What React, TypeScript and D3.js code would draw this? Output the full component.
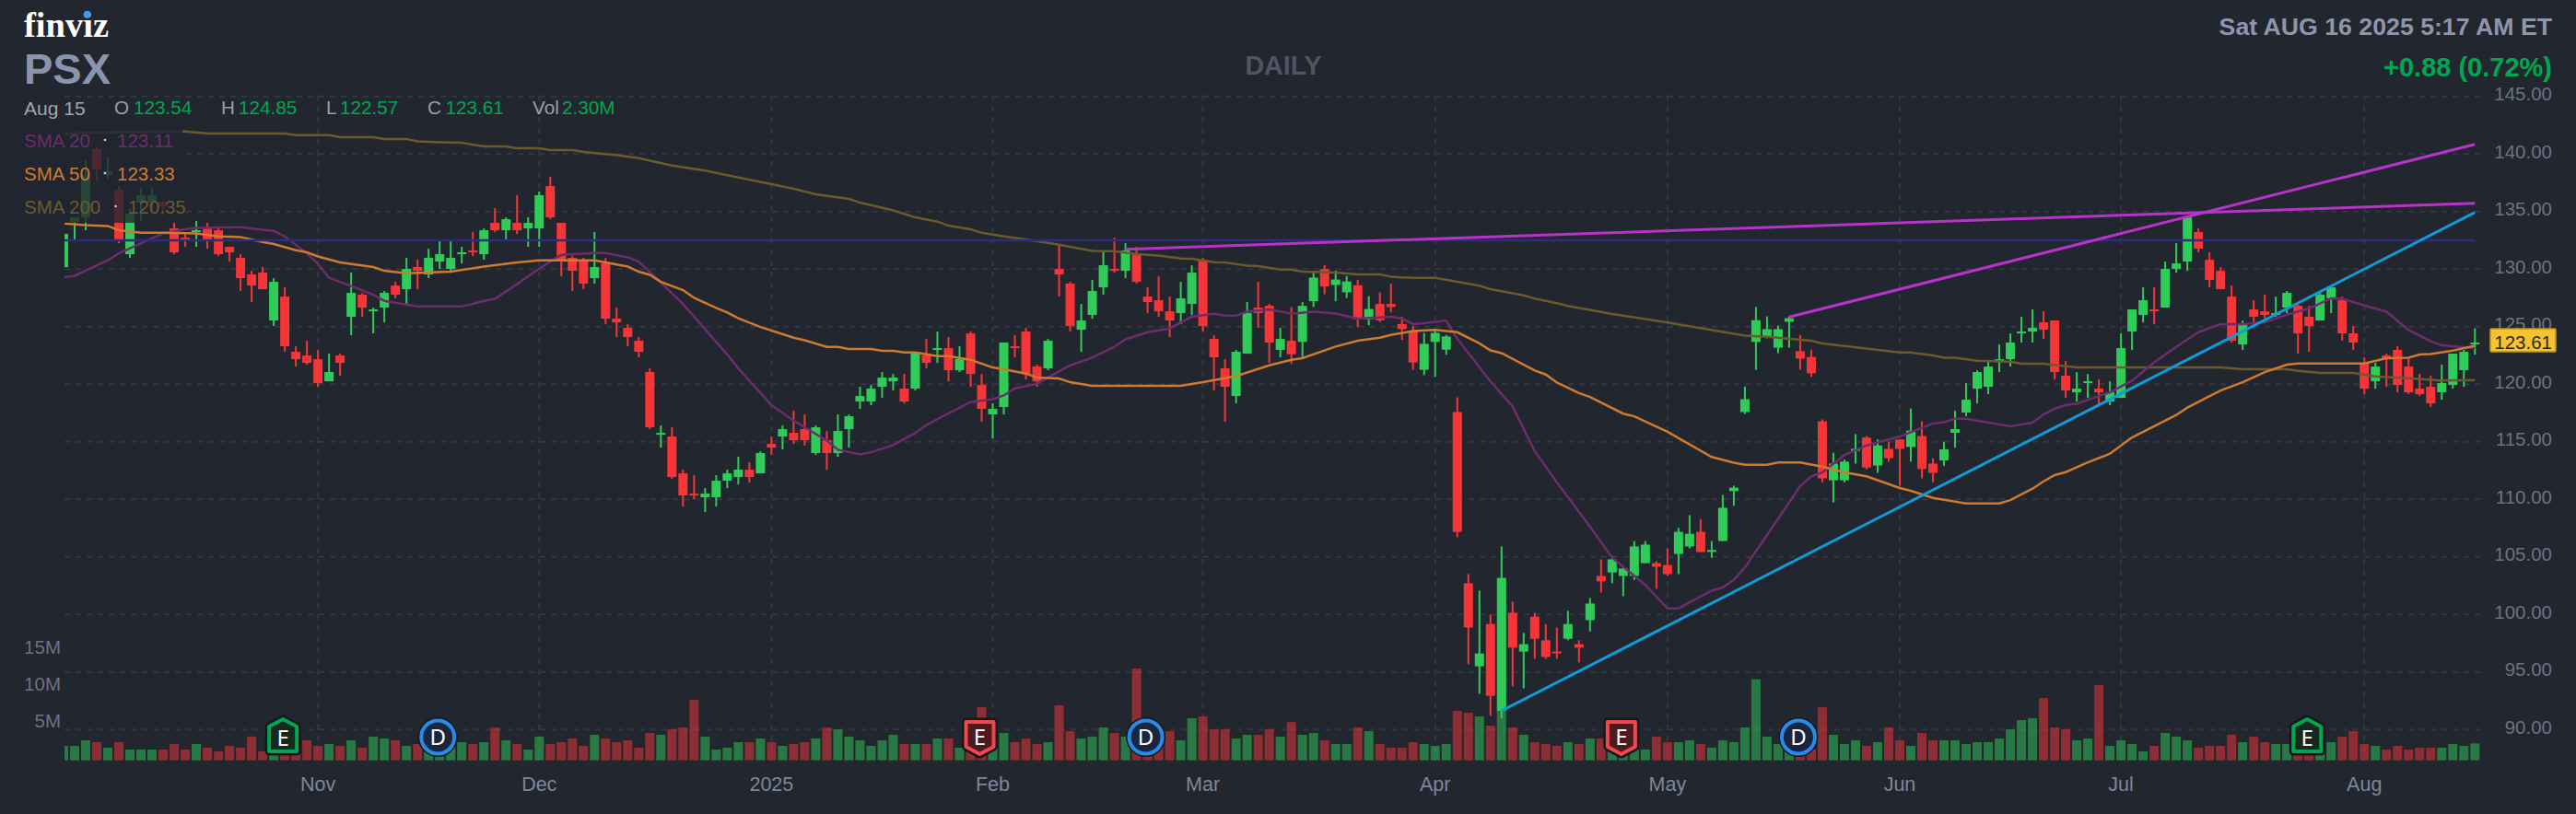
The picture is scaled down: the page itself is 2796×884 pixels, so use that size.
import React from 'react';
import * as d3 from 'd3';

const opens = [
  130.17,134.06,134.49,140.44,138.17,136.89,131.29,135.77,135.77,135.82,
  133.53,132.73,133.21,133.53,133.37,131.93,130.97,129.53,129.69,125.53,
  127.61,122.81,122.49,122.17,120.25,122.49,125.85,127.77,126.33,126.65,
  128.57,128.25,130.17,129.53,130.65,130.01,131.29,131.61,131.29,134.01,
  133.37,134.01,133.53,133.53,137.21,134.01,130.97,130.81,129.21,130.49,
  125.69,124.89,123.77,121.05,115.61,115.45,112.25,110.49,110.17,110.17,
  111.61,111.93,112.57,112.25,114.81,115.45,115.77,116.09,114.01,115.13,
  114.01,116.09,118.49,118.49,119.77,120.25,119.61,119.61,122.49,122.97,
  123.13,121.21,124.41,119.93,117.37,118.01,123.29,124.57,121.53,121.37,
  130.01,128.73,124.73,126.01,128.41,130.01,129.85,131.29,127.61,127.29,
  126.33,126.17,126.97,130.81,123.93,121.37,118.97,122.65,126.65,126.81,
  122.97,123.77,123.67,127.21,130.0,128.62,127.98,128.59,125.63,126.97,
  126.97,125.22,124.62,121.25,123.67,123.0,117.58,102.70,95.49,99.16,
  91.62,100.14,96.77,99.80,97.75,96.77,97.88,97.41,99.50,103.34,
  103.64,103.34,103.34,104.45,104.45,104.28,105.25,105.90,107.17,105.42,
  106.37,110.71,117.58,123.67,124.14,123.17,125.42,122.86,122.36,116.77,
  111.65,111.65,114.21,115.36,112.93,114.38,115.19,114.55,115.49,113.10,
  113.38,115.77,117.53,119.61,119.77,122.01,122.17,124.41,124.57,125.37,
  125.53,120.73,119.29,120.09,119.61,118.49,118.81,124.57,126.01,126.49,
  126.65,130.01,130.65,133.21,130.81,129.85,127.61,123.45,126.49,126.33,
  126.01,126.65,126.81,125.85,125.53,127.45,127.29,124.41,121.85,120.25,
  122.49,122.97,121.53,119.61,119.77,119.29,119.93,121.21,123.54,
];
const highs = [
  133.05,134.49,139.45,140.57,139.77,137.24,135.24,137.05,137.05,135.9,
  134.01,133.21,134.17,134.01,133.53,131.93,131.29,129.85,130.17,129.21,
  128.41,123.29,123.77,122.97,122.65,122.65,129.69,127.93,126.65,128.09,
  128.89,130.97,130.81,131.77,132.57,132.57,131.93,133.21,133.53,135.29,
  134.49,136.41,134.49,136.73,138.01,134.01,131.13,130.97,133.21,130.97,
  126.65,125.21,124.09,121.37,116.41,116.25,112.57,112.09,110.97,112.09,
  112.57,113.69,113.21,114.17,115.45,116.41,117.69,117.37,116.41,115.93,
  117.37,117.37,119.77,119.93,121.05,120.89,120.89,122.81,123.93,124.57,
  124.09,123.29,124.57,120.89,118.33,123.61,124.25,124.89,121.69,123.93,
  132.09,128.89,126.97,129.05,131.61,132.73,132.25,131.93,128.41,129.37,
  127.61,128.89,130.33,130.97,124.25,122.17,122.97,127.13,128.89,126.97,
  124.89,126.7,127.14,129.83,130.34,129.87,129.40,129.06,127.65,127.98,
  128.72,125.86,125.09,124.45,124.78,124.28,118.86,103.50,102.06,99.97,
  105.9,101.11,98.39,100.14,99.16,98.86,100.31,97.75,101.42,104.78,
  105.09,104.14,106.37,106.37,104.62,105.73,107.51,108.62,108.28,106.37,
  110.37,111.18,119.80,126.70,125.89,125.09,125.89,124.28,123.0,116.94,
  114.04,113.44,115.66,115.49,115.19,115.02,115.19,117.88,116.77,113.57,
  115.0,117.69,120.09,121.21,122.01,123.45,124.41,125.85,126.49,126.33,
  125.53,122.01,121.05,120.89,120.41,120.25,124.41,126.49,128.41,128.41,
  130.65,132.25,134.65,133.53,131.45,130.17,128.57,125.53,127.29,127.77,
  127.61,128.09,127.13,126.81,127.93,128.57,127.61,125.05,122.33,121.85,
  122.65,123.29,122.33,120.89,120.73,121.69,122.65,122.97,124.85,
];
const lows = [
  130.17,132.57,133.37,137.64,137.85,132.25,130.97,134.17,134.97,134.71,
  131.29,131.93,131.93,131.77,131.13,130.65,128.09,127.13,128.25,125.05,
  122.81,121.53,121.69,119.77,120.25,120.73,124.25,125.85,124.41,125.37,
  127.45,126.81,128.25,129.21,130.01,129.69,130.49,131.13,130.81,133.21,
  132.57,133.05,131.93,131.93,134.33,129.37,128.09,128.25,128.73,125.21,
  124.09,123.29,122.33,116.09,114.49,111.77,109.37,110.01,108.89,109.37,
  110.97,111.29,111.45,112.25,113.85,114.33,114.81,114.65,113.85,112.57,
  113.69,114.49,117.85,118.17,118.81,119.45,118.33,119.45,121.37,121.85,
  120.25,121.05,119.77,116.73,115.29,117.37,122.33,120.41,119.77,121.21,
  127.61,124.57,122.81,125.69,127.77,129.69,129.21,128.73,126.17,125.85,
  124.09,125.21,126.01,124.57,119.45,116.73,118.33,122.65,124.89,121.85,
  122.33,121.75,122.36,126.70,127.81,127.21,127.48,124.95,125.12,125.42,
  126.23,123.84,121.25,120.78,120.64,122.56,106.70,95.66,93.10,91.18,
  91.01,93.74,93.57,96.13,96.13,96.13,97.75,95.83,98.52,101.89,
  102.70,101.58,103.0,104.45,102.22,103.34,103.50,105.73,105.42,104.92,
  106.37,109.43,117.41,121.25,123.98,122.70,123.17,121.25,120.64,111.48,
  109.73,111.48,113.10,112.59,112.29,113.27,111.18,113.27,111.82,111.48,
  112.9,114.49,117.21,118.33,119.13,121.05,121.53,123.61,123.61,123.93,
  120.41,118.81,118.49,118.81,118.17,118.17,118.81,122.97,125.37,125.21,
  126.65,129.69,129.85,131.45,128.41,128.25,123.61,122.97,125.37,125.69,
  125.85,126.17,122.65,122.81,125.53,126.17,123.77,122.97,119.13,119.61,
  119.77,119.29,119.13,118.97,118.01,118.65,119.61,119.77,122.57,
];
const closes = [
  133.05,134.49,138.17,138.65,138.49,132.44,134.81,136.41,136.41,135.45,
  131.45,132.57,133.37,132.57,131.29,131.45,129.21,128.57,128.25,128.89,
  123.29,122.17,121.85,120.09,121.05,121.85,127.93,126.65,126.49,127.93,
  127.77,130.01,129.85,130.97,131.29,130.97,131.45,131.45,133.37,133.37,
  134.33,133.37,134.01,136.41,134.49,130.81,129.85,128.73,130.17,125.69,
  125.37,124.09,122.81,116.25,115.77,111.93,110.33,110.33,110.49,111.61,
  112.25,112.57,111.93,114.01,114.49,116.09,115.13,115.13,116.25,114.01,
  115.93,117.21,118.97,119.61,120.57,120.57,118.49,122.81,121.85,123.13,
  121.21,122.17,120.89,117.85,117.85,123.61,123.13,120.89,120.25,123.77,
  129.53,125.05,125.53,128.09,130.33,129.85,131.61,128.89,127.13,126.33,
  125.53,127.45,129.69,125.05,122.33,119.77,122.81,126.17,126.17,123.61,
  123.93,122.6,126.8,129.26,128.49,129.09,128.92,125.63,126.53,125.56,
  126.70,124.78,121.89,123.50,124.45,124.14,107.17,98.86,96.60,92.93,
  103.17,97.11,97.41,97.88,96.30,96.64,99.16,97.11,100.94,102.87,
  104.78,103.98,105.90,106.06,104.14,103.50,107.17,107.0,105.42,105.59,
  109.26,111.01,118.69,125.56,124.78,124.78,125.73,122.22,120.95,111.82,
  113.10,113.27,114.38,112.76,114.68,113.57,114.38,115.96,112.63,112.29,
  114.34,116.09,118.65,121.05,121.53,122.17,123.61,124.57,124.89,124.73,
  121.05,119.45,119.61,120.25,119.29,119.29,123.13,126.49,127.29,126.33,
  130.01,130.49,134.49,131.77,129.05,128.25,123.77,125.21,125.85,126.01,
  126.17,127.93,124.41,125.05,127.77,128.41,124.41,123.61,119.61,121.53,
  122.17,119.93,119.29,119.13,118.33,120.09,122.65,122.81,123.61,
];
// millions of shares
const volumes = [
  1.96,1.96,2.71,2.46,1.71,2.46,1.46,1.46,1.46,1.46,
  2.21,1.46,2.21,1.71,1.21,1.96,1.71,3.21,1.21,1.71,
  1.96,1.96,2.71,1.96,2.21,1.96,2.71,1.71,3.21,2.96,
  2.71,1.96,2.21,2.3,2.4,2.4,2.46,2.21,2.46,4.46,
  2.71,2.21,1.46,3.21,2.21,2.46,2.96,1.96,3.46,2.96,
  2.46,2.71,1.71,3.71,3.46,4.21,4.46,8.21,3.21,1.46,
  1.71,2.46,2.46,2.96,2.46,1.96,2.21,2.46,2.96,4.46,
  4.21,3.21,2.71,1.96,2.71,3.46,2.21,2.21,2.21,2.96,
  2.96,1.71,2.3,7.21,2.3,3.71,2.46,2.96,2.21,2.46,
  7.46,3.96,2.96,3.21,4.46,3.71,3.21,12.46,2.3,2.3,
  3.96,2.71,5.71,5.96,4.21,4.21,2.96,3.46,3.46,4.21,
  3.21,5.21,3.46,3.71,2.71,2.21,2.21,4.46,3.96,2.21,
  1.71,1.71,2.46,2.21,1.96,2.21,6.71,6.46,5.96,4.71,
  6.71,4.46,3.46,2.46,2.21,1.96,2.46,2.21,2.96,2.96,
  2.3,1.2,1.46,1.46,3.21,2.46,2.46,2.71,2.21,1.71,
  2.71,2.46,4.46,11,3.21,2.21,2.3,1.2,1.5,7.21,
  3.46,2.21,2.71,1.96,2.46,4.46,2.71,1.96,3.71,2.71,
  2.71,2.71,2.21,2.46,2.46,2.96,4.21,5.46,5.71,8.46,
  4.46,4.21,2.71,2.96,10.21,1.96,2.71,2.21,1.21,1.96,
  3.71,3.21,2.71,1.71,1.96,1.96,3.46,2.46,3.21,2.46,
  2.21,2.21,2.3,1.5,1.9,2.46,3.21,3.96,2.21,1.96,
  1.46,1.96,1.46,1.71,1.71,1.71,2.21,1.96,2.30,
];

const sma20: [number, number][] = [
  [0,129.29],[1,129.42],[4,130.76],[5,131.37],[9,133.1],[11,133.45],[12,133.58],[16,133.64],[18,133.42],[19,133.32],
  [20,132.84],[22,131.37],[23,130.44],[24,129.24],[26,128.52],[28,127.77],[29,127.24],[32,126.76],[36,126.76],[37,126.97],
  [38,127.24],[39,127.42],[41,128.7],[42,129.37],[43,130.04],[45,131.24],[48,131.4],[49,131.4],[51,131.02],[52,130.65],
  [53,129.77],[56,126.97],[60,122.57],[61,121.37],[63,119.24],[64,118.17],[66,116.84],[69,115.1],[70,114.3],[72,113.9],
  [73,114.09],[75,114.7],[77,115.77],[78,116.44],[79,116.97],[82,118.44],[84,118.7],[85,119.02],[86,119.64],[88,120.04],
  [90,121.1],[91,121.64],[93,122.3],[95,123.24],[96,123.9],[98,124.52],[100,124.84],[101,125.37],[102,125.85],[104,126.12],
  [105,125.96],[106,125.96],[107,126.3],[109,126.49],[111,126.12],[113,126.3],[115,126.13],[117,125.69],[120,125.86],[121,125.69],
  [122,125.22],[123,125.29],[125,125.53],[126,123.94],[129,120.24],[131,118.05],[133,114.18],[135,111.48],[138,107.61],[140,104.92],
  [143,102.56],[145,100.51],[146,100.51],[147,101.05],[149,102.06],[150,102.33],[151,103.0],[152,104.08],[155,108.29],[157,111.15],
  [158,111.99],[159,112.33],[161,113.84],[163,114.68],[165,115.19],[166,115.45],[169,116.58],[170,116.7],[171,117.0],[172,117.0],
  [176,116.33],[178,116.65],[179,117.37],[180,117.86],[181,118.2],[182,118.3],[184,118.97],[185,119.29],[187,120.3],[189,121.9],
  [191,123.24],[193,124.52],[195,125.21],[197,125.21],[199,125.37],[201,126.04],[203,126.57],[205,127.45],[206,127.42],[208,126.84],
  [210,126.3],[212,124.7],[214,123.72],[215,123.37],[218,123.11],
];
const sma50: [number, number][] = [
  [0,133.96],[2,133.82],[4,133.74],[5,133.37],[7,133.16],[9,133.16],[12,133.1],[14,132.84],[16,132.78],[18,132.36],
  [19,132.17],[21,131.64],[22,131.45],[23,131.1],[25,130.57],[28,130.17],[29,129.85],[31,129.64],[35,129.77],[38,130.22],
  [41,130.57],[43,130.76],[48,130.76],[49,130.57],[51,130.22],[52,129.77],[53,129.5],[54,128.89],[56,128.17],[57,127.5],
  [59,126.62],[60,126.22],[61,125.72],[63,124.97],[66,124.04],[67,123.82],[69,123.24],[70,123.24],[71,123.05],[73,123.05],
  [74,122.89],[75,122.89],[76,122.76],[77,122.76],[79,122.44],[80,122.44],[82,122.12],[84,121.45],[85,121.29],[87,120.92],
  [88,120.57],[90,120.49],[91,120.17],[93,119.85],[101,119.85],[103,120.17],[106,120.7],[109,121.64],[111,122.12],[112,122.26],
  [115,123.27],[117,123.77],[119,124.04],[120,124.28],[122,124.62],[124,124.72],[126,124.51],[128,123.54],[129,122.93],[130,122.7],
  [133,121.18],[134,120.84],[135,120.14],[137,119.23],[138,118.89],[141,117.44],[142,117.21],[145,115.86],[149,113.67],[151,113.17],
  [152,113.0],[154,113.0],[155,113.2],[157,113.2],[159,112.83],[161,112.33],[163,111.99],[166,110.98],[167,110.74],[169,110.12],
  [172,109.64],[175,109.64],[176,109.92],[178,110.92],[179,111.56],[180,112.1],[181,112.36],[183,113.2],[185,113.96],[187,115.37],
  [191,117.32],[192,117.96],[195,119.45],[197,120.17],[199,121.05],[201,121.69],[202,121.8],[208,121.8],[210,122.25],[212,122.3],
  [213,122.57],[214,122.62],[216,122.92],[218,123.33],
];
const sma200: [number, number][] = [
  [0,141.77],[5,141.9],[11,141.96],[13,141.77],[20,141.77],[21,141.64],[24,141.64],[25,141.45],[28,141.45],[29,141.29],
  [31,141.29],[32,141.1],[34,141.02],[36,140.97],[38,140.65],[40,140.65],[41,140.49],[43,140.49],[44,140.33],[46,140.33],
  [47,140.17],[50,139.9],[52,139.64],[55,139.0],[58,138.55],[61,137.95],[64,137.37],[66,136.97],[68,136.49],[71,136.09],
  [72,135.77],[73,135.56],[75,135.1],[77,134.49],[79,134.12],[80,133.77],[82,133.45],[83,133.16],[85,132.84],[87,132.57],
  [90,132.12],[93,131.58],[95,131.56],[97,131.29],[99,131.18],[101,130.92],[102,130.89],[104,130.6],[105,130.57],[107,130.3],
  [108,130.25],[110,129.96],[111,129.96],[112,129.77],[115,129.7],[117,129.53],[119,129.53],[120,129.33],[122,129.23],[124,129.23],
  [128,128.55],[129,128.25],[132,127.71],[133,127.44],[135,127.04],[136,126.8],[140,126.1],[145,125.36],[152,124.21],[154,124.11],
  [158,123.77],[159,123.54],[163,123.1],[166,122.76],[167,122.76],[169,122.49],[170,122.3],[171,122.3],[173,122.04],[176,121.96],
  [177,121.77],[179,121.77],[182,121.45],[195,121.45],[197,121.29],[201,121.29],[202,121.16],[204,120.97],[207,120.97],[209,120.68],
  [212,120.52],[215,120.31],[218,120.35],
];

const priceTicks = [145, 140, 135, 130, 125, 120, 115, 110, 105, 100, 95, 90];
const volumeTicks = [5, 10, 15];
const monthBars = [23, 43, 64, 84, 103, 124, 145, 166, 186, 208];
const monthLabels = ['Nov', 'Dec', '2025', 'Feb', 'Mar', 'Apr', 'May', 'Jun', 'Jul', 'Aug'];

const supportLevel = 132.49;
const trendLines: { from: [number, number]; to: [number, number]; color: string }[] = [
  { from: [96, 131.72], to: [218, 135.72], color: '#b833c9' },
  { from: [156, 125.83], to: [218, 140.84], color: '#b833c9' },
  { from: [130, 91.62], to: [218, 134.92], color: '#0f9bd8' },
];

const earningsBars = [20, 83, 141, 203];
const earningsBeat = [true, false, false, true];
const dividendBars = [34, 98, 157];

const quote = [
  { key: 'O', value: '123.54', kx: 124, vx: 145 },
  { key: 'H', value: '124.85', kx: 240, vx: 259 },
  { key: 'L', value: '122.57', kx: 354, vx: 369 },
  { key: 'C', value: '123.61', kx: 464, vx: 483.5 },
  { key: 'Vol', value: '2.30M', kx: 578, vx: 610 },
];
const smaLegend = [
  { label: 'SMA 20', value: '123.11', color: '#6b2d6b', y: 153, dot: 114, vx: 127 },
  { label: 'SMA 50', value: '123.33', color: '#cf7a2f', y: 189, dot: 114, vx: 127 },
  { label: 'SMA 200', value: '120.35', color: '#6b5a2c', y: 225, dot: 125.5, vx: 139 },
];

const W = 2796;
const H = 884;
const BG = '#22262f';
const UP = '#30cc5a';
const DOWN = '#f63538';
const GRID = '#333742';
const FONT = '"Liberation Sans", Arial, sans-serif';
const plot = { left: 70, right: 2692, top: 103, bottom: 826 };

export default function App() {
  const x = d3.scaleLinear().domain([0, 218]).range([69, 69 + 218 * 12.006]);
  const y = d3.scaleLinear().domain([145, 90]).range([104.7, 792.2]);
  const vy = d3.scaleLinear().domain([0, 15]).range([825.7, 705.7]);
  const line = d3
    .line<[number, number]>()
    .x(d => x(d[0]))
    .y(d => y(d[1]));
  const lastClose = closes[closes.length - 1];

  return (
    <svg width={W} height={H} viewBox={`0 0 ${W} ${H}`} style={{ position: 'fixed', left: 0, top: 0, display: 'block' }} fontFamily={FONT}>
      <defs>
        <clipPath id="plot">
          <rect x={plot.left} y={0} width={plot.right - plot.left} height={H} />
        </clipPath>
      </defs>
      <rect width={W} height={H} fill={BG} />

      {priceTicks.map(t => (
        <line key={t} x1={plot.left} x2={plot.right} y1={y(t)} y2={y(t)} stroke={GRID} strokeWidth={2} strokeDasharray="6 6" />
      ))}
      {monthBars.map(b => (
        <line key={b} x1={x(b)} x2={x(b)} y1={plot.top} y2={plot.bottom} stroke={GRID} strokeWidth={2} strokeDasharray="6 6" />
      ))}

      <g clipPath="url(#plot)">
        {volumes.map((v, i) => (
          <rect key={i} x={x(i) - 5} width={10} y={vy(v)} height={vy(0) - vy(v)} fill={closes[i] >= opens[i] ? UP : DOWN} opacity={0.5} />
        ))}
        {opens.map((o, i) => {
          const c = closes[i];
          const color = c >= o ? UP : DOWN;
          const top = y(Math.max(o, c));
          return (
            <g key={i} fill={color}>
              <rect x={x(i) - 1} width={2} y={y(highs[i])} height={y(lows[i]) - y(highs[i])} />
              <rect x={x(i) - 5} width={10} y={top} height={Math.max(2, y(Math.min(o, c)) - top)} />
            </g>
          );
        })}
        <path d={line(sma200) ?? ''} fill="none" stroke="#6b5a2c" strokeWidth={2.5} />
        <path d={line(sma20) ?? ''} fill="none" stroke="#6b2d6b" strokeWidth={2.5} />
        <path d={line(sma50) ?? ''} fill="none" stroke="#cf7a2f" strokeWidth={2.5} />
        <line x1={plot.left} x2={x(218)} y1={y(supportLevel)} y2={y(supportLevel)} stroke="#2f2c7e" strokeWidth={2.5} />
        {trendLines.map((t, i) => (
          <line key={i} x1={x(t.from[0])} y1={y(t.from[1])} x2={x(t.to[0])} y2={y(t.to[1])} stroke={t.color} strokeWidth={3} />
        ))}
      </g>

      {/* legend backdrop dims whatever runs under it */}
      <rect x={20} y={136} width={178} height={106} fill={BG} opacity={0.8} />

      {priceTicks.map(t => (
        <text key={t} x={2770} y={y(t) - 3} dy="0.36em" textAnchor="end" fontSize={20.5} fill="#6c7280">
          {t.toFixed(2)}
        </text>
      ))}
      {volumeTicks.map(t => (
        <text key={t} x={66} y={vy(t) - 3.5} dy="0.36em" textAnchor="end" fontSize={20.5} fill="#6c7280">
          {t}M
        </text>
      ))}
      {monthBars.map((b, i) => (
        <text key={b} x={x(b)} y={851} dy="0.36em" textAnchor="middle" fontSize={21.5} fill="#7f8699">
          {monthLabels[i]}
        </text>
      ))}

      {earningsBars.map((b, i) => {
        const beat = earningsBeat[i];
        const cx = x(b) - 2;
        const pts = beat
          ? [[-15, 789], [0, 781], [15, 789], [15, 816], [-15, 816]]
          : [[-15, 784], [15, 784], [15, 811], [0, 819], [-15, 811]];
        const d = `M${pts.map(p => `${cx + p[0]},${p[1]}`).join('L')}Z`;
        return (
          <g key={b}>
            <path d={d} fill="none" stroke="#14171c" strokeWidth={9} strokeLinejoin="round" />
            <path d={d} fill={beat ? '#17291f' : '#4d1a1e'} stroke={beat ? '#00a651' : '#f0474f'} strokeWidth={4} strokeLinejoin="round" />
            <text x={cx} y={beat ? 801 : 800} dy="0.36em" textAnchor="middle" fontFamily='"Noto Sans", sans-serif' fontSize={24} fill="#ffffff">
              E
            </text>
          </g>
        );
      })}
      {dividendBars.map(b => (
        <g key={b}>
          <circle cx={x(b) - 2} cy={800.5} r={19} fill="#1a2540" stroke="#14171c" strokeWidth={5} />
          <circle cx={x(b) - 2} cy={800.5} r={18} fill="#1a2540" stroke="#2b8ae6" strokeWidth={4} />
          <text x={x(b) - 2} y={800.5} dy="0.36em" textAnchor="middle" fontFamily='"Noto Sans", sans-serif' fontSize={24} fill="#ffffff">
            D
          </text>
        </g>
      ))}

      <rect x={2703} y={357} width={71} height={25} fill="#f5c330" stroke="#b8922a" strokeWidth={1.5} rx={1} />
      <text x={2770} y={y(lastClose)} dy="0.36em" textAnchor="end" fontSize={20.5} fill="#2e2a1a">
        {lastClose.toFixed(2)}
      </text>

      <text x={26} y={40} fontFamily='"Liberation Serif", serif' fontWeight="bold" fontSize={38.5} fill="#ffffff">
        finviz
      </text>
      <circle cx={94.6} cy={15.7} r={4} fill="#3b9cf0" />
      <text x={26} y={91} fontWeight="bold" fontSize={47} fill="#8a94ad">
        PSX
      </text>
      <text x={1393} y={71} dy="0.36em" textAnchor="middle" fontWeight="bold" fontSize={28.6} fill="#4f5563">
        DAILY
      </text>
      <text x={2770} y={28} dy="0.36em" textAnchor="end" fontWeight="bold" fontSize={26.7} fill="#8f96ab">
        Sat AUG 16 2025 5:17 AM ET
      </text>
      <text x={2770} y={72.7} dy="0.36em" textAnchor="end" fontWeight="bold" fontSize={29} fill="#00a651">
        +0.88 (0.72%)
      </text>

      <text x={26} y={117} dy="0.36em" fontSize={21} fill="#a0a5b0">
        Aug 15
      </text>
      {quote.map(q => (
        <g key={q.key} fontSize={20.7}>
          <text x={q.kx} y={117} dy="0.36em" fill="#9ba0ad">
            {q.key}
          </text>
          <text x={q.vx} y={117} dy="0.36em" fill="#00a651">
            {q.value}
          </text>
        </g>
      ))}
      {smaLegend.map(s => (
        <g key={s.label} fontSize={20.5} fill={s.color}>
          <text x={26} y={s.y} dy="0.36em">
            {s.label}
          </text>
          <circle cx={s.dot} cy={s.y - 1} r={1.3} fill="#c8ccd4" />
          <text x={s.vx} y={s.y} dy="0.36em">
            {s.value}
          </text>
        </g>
      ))}
    </svg>
  );
}
